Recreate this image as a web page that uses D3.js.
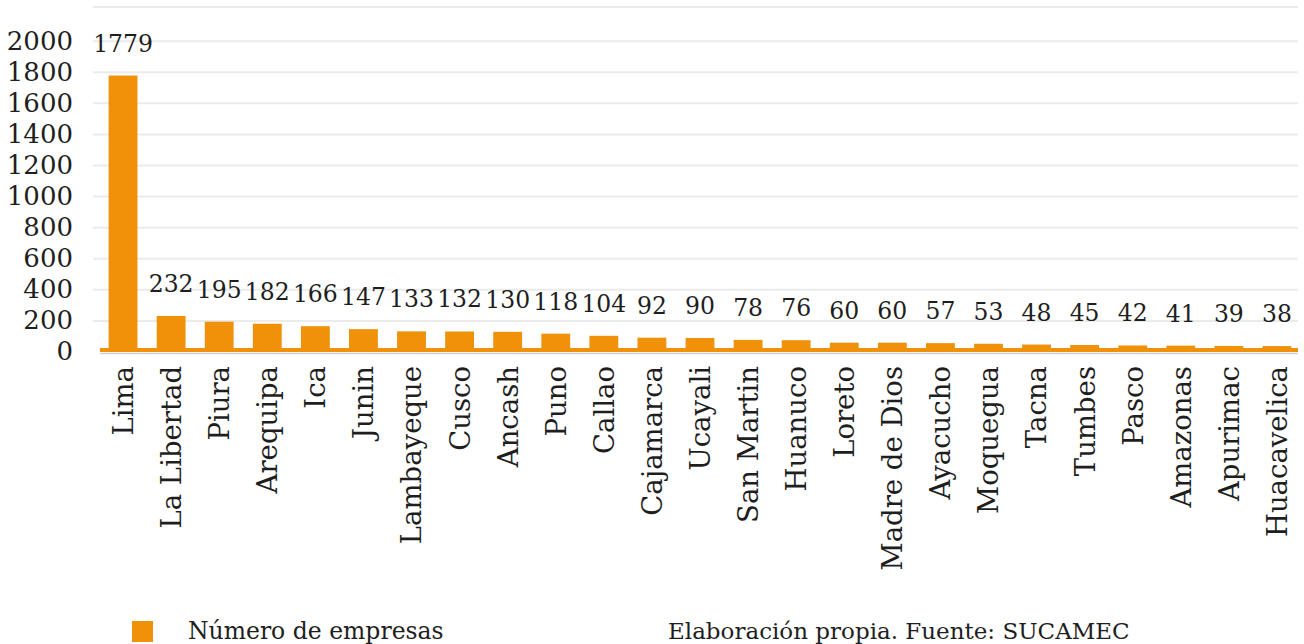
<!DOCTYPE html>
<html>
<head>
<meta charset="utf-8">
<script src="https://cdn.jsdelivr.net/npm/d3@7"></script>
<style>
html,body{margin:0;padding:0;background:#fff;}
svg{display:block;font-family:"DejaVu Serif",serif;}
</style>
</head>
<body>
<svg id="chart" width="1304" height="644"></svg>
<script>
const categories = ["Lima","La Libertad","Piura","Arequipa","Ica","Junin","Lambayeque","Cusco","Ancash","Puno","Callao","Cajamarca","Ucayali","San Martin","Huanuco","Loreto","Madre de Dios","Ayacucho","Moquegua","Tacna","Tumbes","Pasco","Amazonas","Apurimac","Huacavelica"];
const values = [1779,232,195,182,166,147,133,132,130,118,104,92,90,78,76,60,60,57,53,48,45,42,41,39,38];
const yTicks = [0,200,400,600,800,1000,1200,1400,1600,1800,2000];
const seriesName = "Número de empresas";
const sourceNote = "Elaboración propia. Fuente: SUCAMEC";

const svg = d3.select("#chart");
const orange = "#F0910A";
const textColor = "#1e1e1e";

const x = d3.scaleBand().domain(categories).range([99, 1301]).paddingInner(0.4).paddingOuter(0.2);
const y = d3.scaleLinear().domain([0, 2220]).range([352, 7]);

// gridlines
const gridVals = yTicks.filter(v => v > 0).concat([2220]);
svg.append("g").selectAll("line").data(gridVals).join("line")
  .attr("x1", 93).attr("x2", 1298)
  .attr("y1", d => y(d)).attr("y2", d => y(d))
  .attr("stroke", "#EBEBEB").attr("stroke-width", 2);

// y axis labels
const yAxis = d3.axisLeft(y).tickValues(yTicks).tickSize(0).tickPadding(0).tickFormat(d3.format("d"));
const ga = svg.append("g").attr("transform", "translate(73,0)").call(yAxis);
ga.select(".domain").remove();
ga.selectAll("text").attr("font-size", 26).attr("font-family", "DejaVu Serif").attr("fill", textColor).attr("dy", "0.3em");

// baseline band
svg.append("rect").attr("x", 100).attr("width", 1198)
  .attr("y", y(0) - 4).attr("height", 4).attr("fill", orange);
svg.append("line").attr("x1", 100).attr("x2", 1298)
  .attr("y1", y(0) + 1.5).attr("y2", y(0) + 1.5)
  .attr("stroke", "#D0D0D0").attr("stroke-width", 1.5);

// bars
svg.append("g").selectAll("rect").data(values).join("rect")
  .attr("x", (d, i) => x(categories[i]))
  .attr("width", x.bandwidth())
  .attr("y", d => y(d))
  .attr("height", d => y(0) - y(d))
  .attr("fill", orange);

// value labels
svg.append("g").selectAll("text").data(values).join("text")
  .attr("x", (d, i) => x(categories[i]) + x.bandwidth() / 2)
  .attr("y", d => y(d) - 24)
  .attr("text-anchor", "middle")
  .attr("font-size", 23.5)
  .attr("fill", textColor)
  .text(d => d);

// x labels
const xAxis = d3.axisBottom(x).tickSize(0).tickPadding(0);
const gx = svg.append("g").attr("transform", "translate(0,366)").call(xAxis);
gx.select(".domain").remove();
gx.selectAll("text")
  .attr("font-size", 27.5).attr("font-family", "DejaVu Serif").attr("fill", textColor)
  .attr("transform", "rotate(-90)")
  .attr("text-anchor", "end")
  .attr("x", 0).attr("y", 0).attr("dy", "0.36em");

// legend
svg.append("rect").attr("x", 132).attr("y", 621).attr("width", 21).attr("height", 21).attr("fill", orange);
svg.append("text").attr("x", 188).attr("y", 639).attr("font-size", 23.5).attr("fill", textColor).text(seriesName);
svg.append("text").attr("x", 668).attr("y", 639).attr("font-size", 23).attr("fill", textColor).text(sourceNote);
</script>
</body>
</html>
